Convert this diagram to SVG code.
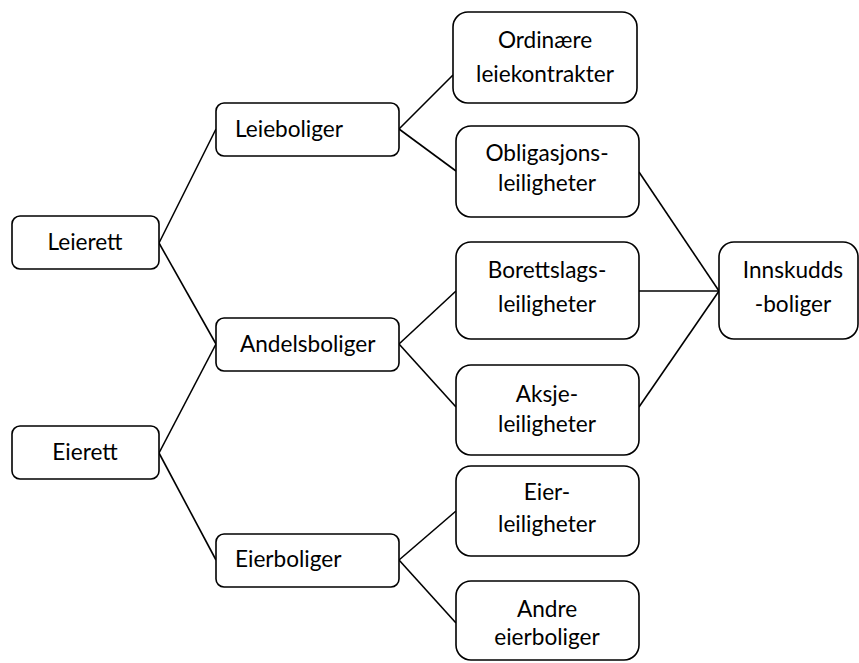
<svg xmlns="http://www.w3.org/2000/svg" width="859" height="663" viewBox="0 0 859 663">
<style>
rect{fill:#fff;stroke:#000;stroke-width:1.6}
text{font-family:Lato,"Liberation Sans",sans-serif;font-size:22.6px;fill:#000}
.c{text-anchor:middle}
#connectors line{stroke:#000;stroke-width:1.6}
</style>
<rect x="0" y="0" width="859" height="663" style="stroke:none"/>
<g id="connectors">
<line x1="159" y1="243" x2="216" y2="129"/>
<line x1="159" y1="243" x2="216" y2="344"/>
<line x1="159" y1="453" x2="216" y2="344"/>
<line x1="159" y1="453" x2="216" y2="560"/>
<line x1="399" y1="129" x2="453" y2="75"/>
<line x1="399" y1="129" x2="456" y2="171"/>
<line x1="399" y1="344" x2="456" y2="291"/>
<line x1="399" y1="344" x2="456" y2="407"/>
<line x1="399" y1="560" x2="456" y2="511"/>
<line x1="399" y1="560" x2="456" y2="623"/>
<line x1="639" y1="172" x2="719" y2="291"/>
<line x1="639" y1="291" x2="719" y2="291"/>
<line x1="639" y1="407" x2="719" y2="291"/>
</g>
<g id="leierett"><rect x="12" y="216" width="147" height="53" rx="8"/><text class="c" x="85" y="250">Leierett</text></g>
<g id="eierett"><rect x="12" y="426" width="147" height="53" rx="8"/><text class="c" x="85" y="460">Eierett</text></g>
<g id="leieboliger"><rect x="216" y="103" width="183" height="53" rx="8"/><text x="235" y="137">Leieboliger</text></g>
<g id="andelsboliger"><rect x="216" y="318" width="183" height="53" rx="8"/><text x="240" y="352">Andelsboliger</text></g>
<g id="eierboliger"><rect x="216" y="534" width="183" height="53" rx="8"/><text x="235" y="567">Eierboliger</text></g>
<g id="ordinaere"><rect x="453" y="12" width="184" height="91" rx="15"/><text class="c" x="545" y="48">Ordinære</text><text class="c" x="545" y="82">leiekontrakter</text></g>
<g id="obligasjons"><rect x="456" y="126" width="183" height="91" rx="15"/><text class="c" x="547" y="161">Obligasjons-</text><text class="c" x="547" y="191">leiligheter</text></g>
<g id="borettslags"><rect x="456" y="242" width="183" height="97" rx="15"/><text class="c" x="547" y="278">Borettslags-</text><text class="c" x="547" y="312">leiligheter</text></g>
<g id="aksje"><rect x="456" y="365" width="183" height="90" rx="15"/><text class="c" x="547" y="402">Aksje-</text><text class="c" x="547" y="432">leiligheter</text></g>
<g id="eierleil"><rect x="456" y="466" width="183" height="90" rx="15"/><text class="c" x="547" y="500">Eier-</text><text class="c" x="547" y="532">leiligheter</text></g>
<g id="andre"><rect x="456" y="581" width="183" height="79" rx="15"/><text class="c" x="547" y="617">Andre</text><text class="c" x="547" y="645">eierboliger</text></g>
<g id="innskudds"><rect x="719" y="242" width="139" height="97" rx="15"/><text class="c" x="793" y="278">Innskudds</text><text class="c" x="793" y="312">-boliger</text></g>
</svg>
